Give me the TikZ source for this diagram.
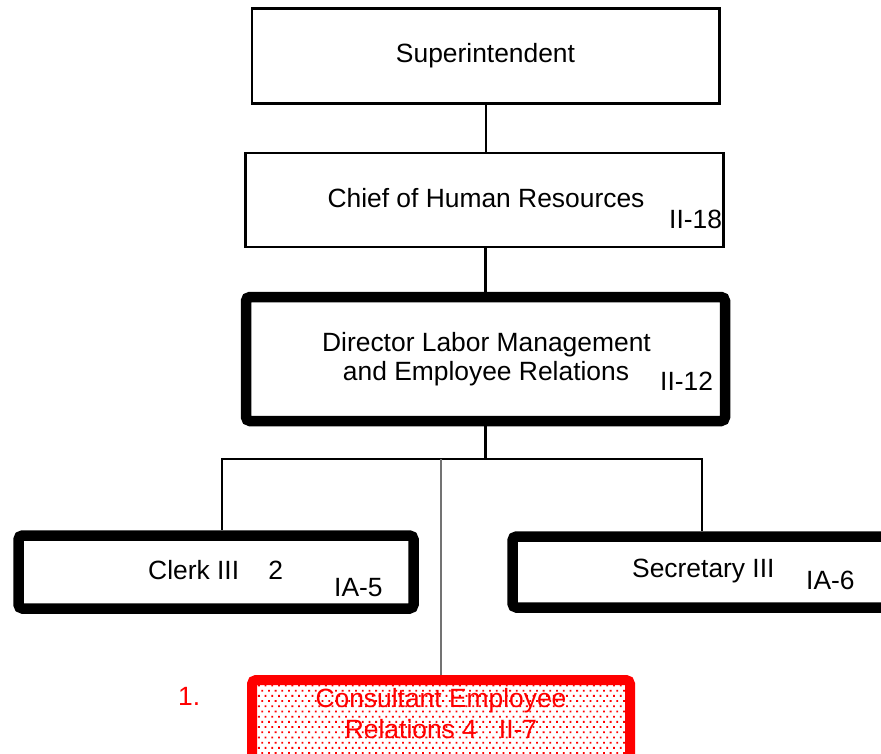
\documentclass[tikz,border=0pt]{standalone}
\usepackage{fontspec}
\setmainfont{Liberation Sans}
\usetikzlibrary{patterns}
\definecolor{pureRed}{RGB}{255,0,0}
\definecolor{lineGray}{RGB}{115,115,115}
\pgfdeclarepatternformonly{sparsedots}{\pgfqpoint{-0.5pt}{-0.5pt}}{\pgfqpoint{7.2pt}{10.9pt}}{\pgfqpoint{6.7pt}{10.4pt}}{%
  \pgfpathrectangle{\pgfqpoint{0pt}{0pt}}{\pgfqpoint{1.8pt}{1.8pt}}%
  \pgfpathrectangle{\pgfqpoint{3.35pt}{5.2pt}}{\pgfqpoint{1.8pt}{1.8pt}}%
  \pgfusepath{fill}}
\begin{document}
\begin{tikzpicture}[x=1pt,y=1pt,
  every node/.style={font=\fontsize{26.4}{29}\selectfont},
  thinbox/.style={draw=black, line width=2.7pt, inner sep=0pt, rectangle},
  thickbox/.style={draw=black, line width=10.5pt, rounded corners=4pt, inner sep=0pt, rectangle},
  redbox/.style={draw=pureRed, line width=10pt, rounded corners=4pt, inner sep=0pt, rectangle,
     preaction={fill=white}, pattern=sparsedots, pattern color=pureRed},
  txt/.style={inner sep=0pt, anchor=base},
  txtw/.style={inner sep=0pt, anchor=base west},
  conn/.style={draw=black, line width=2.5pt},
  grayconn/.style={draw=lineGray, line width=1.6pt}
]
\clip (0,0) rectangle (881,-754);
\fill[white] (0,0) rectangle (881,-754);

% boxes
\node[thinbox, minimum width=467.7pt, minimum height=95pt] (sup) at (485.9,-56.1) {};
\node[thinbox, minimum width=478pt, minimum height=94pt] (chief) at (484.6,-200) {};
\node[thickbox, minimum width=479pt, minimum height=124pt] (dir) at (485.5,-359) {};
\node[thickbox, minimum width=395pt, minimum height=73pt] (clerk) at (216,-572) {};
\node[thickbox, minimum width=417.5pt, minimum height=71pt] (sec) at (721.25,-572) {};

% junction coordinates
\coordinate (j) at (485.5,-459);
\coordinate (jl) at (222,-459);
\coordinate (jr) at (702,-459);
\coordinate (jg) at (441,-459);

% connectors
\draw[conn] (sup.south) -- (sup.south |- chief.north);
\draw[conn] (chief.south -| dir.north) -- (dir.north);
\draw[conn] (dir.south) -- (j);
\draw[conn, line cap=rect] (jl) -- (jr);
\draw[conn] (jl) -- (jl |- clerk.north);
\draw[conn] (jr) -- (jr |- sec.north);

\node[redbox, minimum width=378pt, minimum height=100pt] (cons) at (441,-730) {};
\draw[grayconn] (jg) -- (cons.north);

% texts
\node[txt] (tsup) at (485.5,-63) {Superintendent};
\node[txt] (tchief) at (486,-208) {Chief of Human Resources};
\node[txtw] (gchief) at (669,-229) {II-18};
\node[txt] (tdir1) at (486.5,-351) {Director Labor Management};
\node[txt] (tdir2) at (486,-380) {and Employee Relations};
\node[txtw] (gdir) at (660,-390) {II-12};
\node[txtw] (tclerk) at (148,-579) {Clerk III\ \ \ \ 2};
\node[txtw] (gclerk) at (334,-596) {IA-5};
\node[txtw] (tsec) at (632,-577) {Secretary III};
\node[txtw] (gsec) at (806,-589) {IA-6};
\node[txtw, text=pureRed] (num) at (178,-705) {1.};
\node[txt, text=pureRed] (tcons1) at (441,-707) {Consultant Employee};
\node[txt, text=pureRed] (tcons2) at (441,-738) {Relations 4\ \ \ II-7};
\end{tikzpicture}
\end{document}
